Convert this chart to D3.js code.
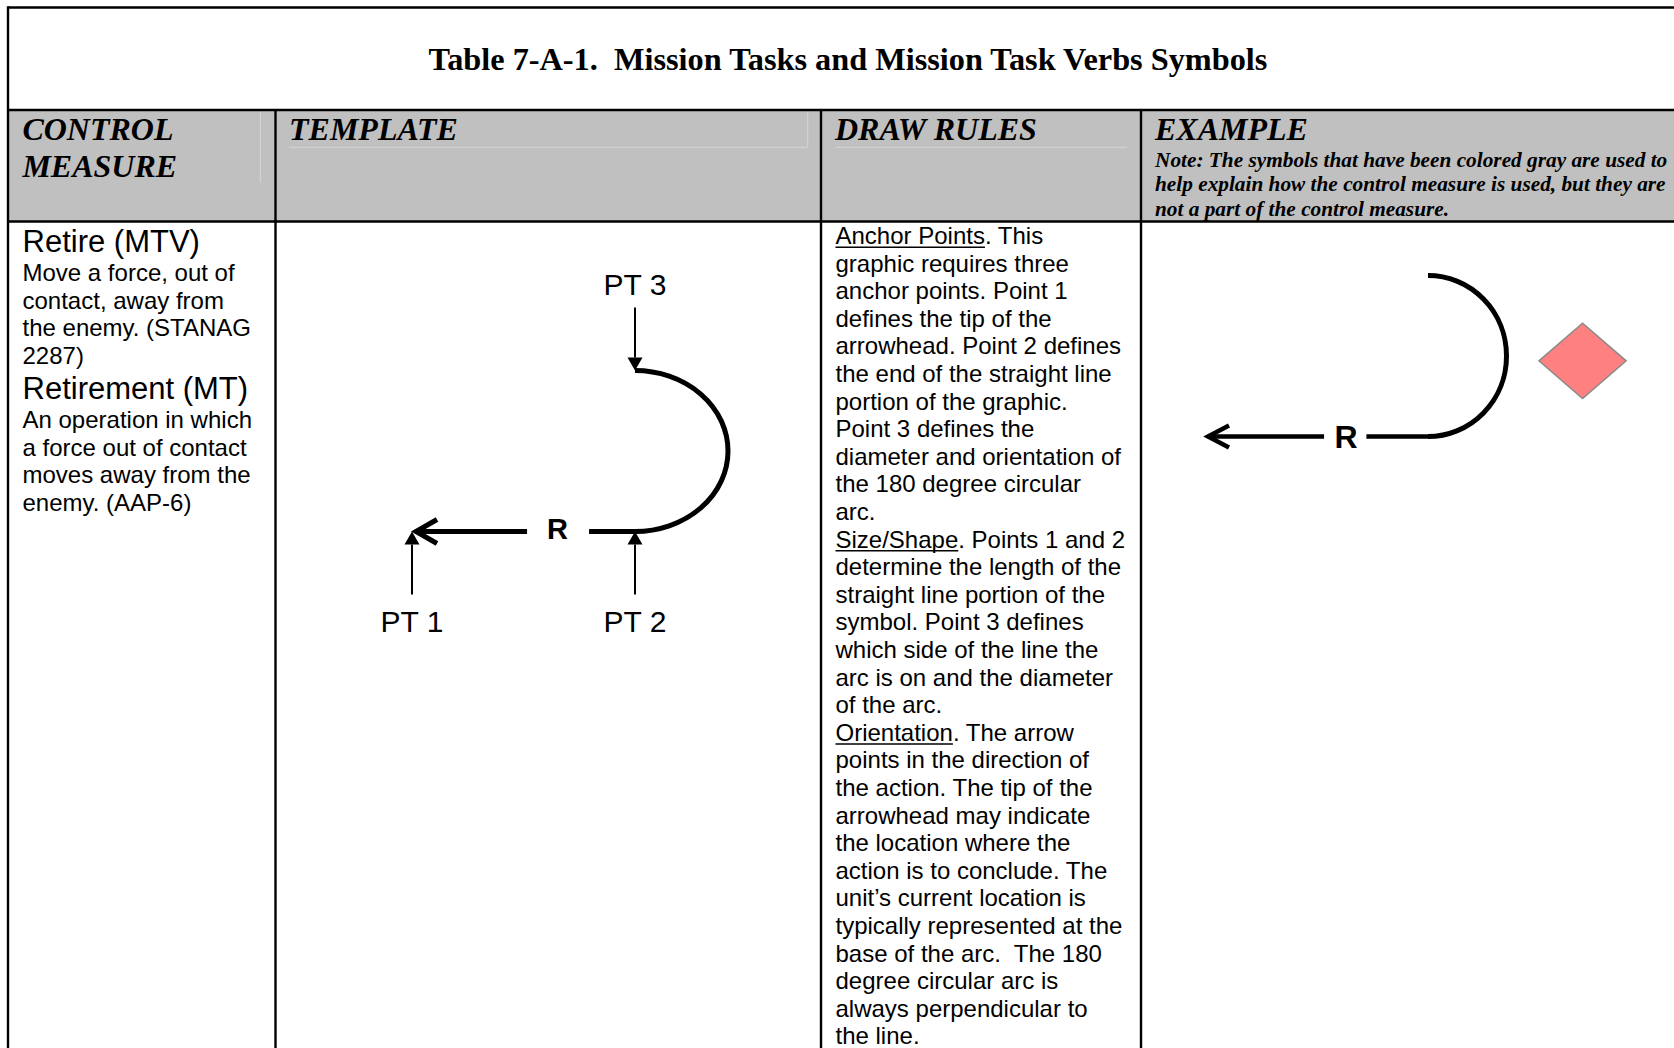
<!DOCTYPE html>
<html><head><meta charset="utf-8">
<script src="https://cdn.jsdelivr.net/npm/d3@7"></script>
<style>html,body{margin:0;padding:0;background:#fff;overflow:hidden} text{white-space:pre}</style>
</head><body><svg id="c" width="1674" height="1048"></svg>
<script>
// ---------------- DATA ----------------
const titleText = "Table 7-A-1.  Mission Tasks and Mission Task Verbs Symbols";
const columnHeaders = [["CONTROL", "MEASURE"], ["TEMPLATE"], ["DRAW RULES"], ["EXAMPLE"]];
const exampleNote = [
  "Note: The symbols that have been colored gray are used to",
  "help explain how the control measure is used, but they are",
  "not a part of the control measure."
];
const controlTerms = ["Retire (MTV)", "Retirement (MT)"];
const controlDefinitions = [
  ["Move a force, out of", "contact, away from", "the enemy. (STANAG", "2287)"],
  ["An operation in which", "a force out of contact", "moves away from the", "enemy. (AAP-6)"]
];
const ruleHeadings = ["Anchor Points", "Size/Shape", "Orientation"];
const drawRuleLines = [
  "Anchor Points. This", "graphic requires three", "anchor points. Point 1", "defines the tip of the",
  "arrowhead. Point 2 defines", "the end of the straight line", "portion of the graphic.",
  "Point 3 defines the", "diameter and orientation of", "the 180 degree circular", "arc.",
  "Size/Shape. Points 1 and 2", "determine the length of the", "straight line portion of the",
  "symbol. Point 3 defines", "which side of the line the", "arc is on and the diameter", "of the arc.",
  "Orientation. The arrow", "points in the direction of", "the action. The tip of the",
  "arrowhead may indicate", "the location where the", "action is to conclude. The",
  "unit\u2019s current location is", "typically represented at the", "base of the arc.  The 180",
  "degree circular arc is", "always perpendicular to", "the line."
];
// anchor points in symbol units (PT1 = arrow tip, PT2 = end of line, PT3 = arc end)
const anchorPoints = [
  {label: "PT 1", x: 0, y: 0},
  {label: "PT 2", x: 1, y: 0},
  {label: "PT 3", x: 1, y: 1}
];
const symbolLabel = "R";
const enemyUnit = {x: 1.69, y: 0.47};

// ---------------- LAYOUT ----------------
const svg = d3.select("#c");
const SANS = "'Liberation Sans', Arial, sans-serif";
const SERIF = "'Liberation Serif', 'Times New Roman', serif";
const colX = [8, 275.5, 821, 1141];
const rightEdge = 1680;
const yTop = 7.5, yHeadTop = 110, yHeadBot = 221.5, yBottom = 1060;
const LW = 2.4;

// header background
svg.append("rect").attr("x", colX[0]).attr("y", yHeadTop).attr("width", rightEdge - colX[0])
  .attr("height", yHeadBot - yHeadTop).attr("fill", "#c0c0c0");

// faint inner cell lines of the header
const faint = [
  [260.3, 112, 260.3, 183], [289, 147.3, 807, 147.3], [807.7, 112, 807.7, 147.3], [836, 147.3, 1127, 147.3]
];
svg.selectAll("line.faint").data(faint).enter().append("line").attr("class", "faint")
  .attr("x1", d => d[0]).attr("y1", d => d[1]).attr("x2", d => d[2]).attr("y2", d => d[3])
  .attr("stroke", "#d6d6d6").attr("stroke-width", 1);

// grid lines
const grid = [
  [colX[0], yTop, rightEdge, yTop],
  [colX[0], yTop - LW / 2, colX[0], yBottom],
  [colX[0], yHeadTop, rightEdge, yHeadTop],
  [colX[0], yHeadBot, rightEdge, yHeadBot],
  [colX[1], yHeadTop, colX[1], yBottom],
  [colX[2], yHeadTop, colX[2], yBottom],
  [colX[3], yHeadTop, colX[3], yBottom]
];
svg.selectAll("line.grid").data(grid).enter().append("line").attr("class", "grid")
  .attr("x1", d => d[0]).attr("y1", d => d[1]).attr("x2", d => d[2]).attr("y2", d => d[3])
  .attr("stroke", "#000").attr("stroke-width", LW);

// title
svg.append("text").attr("x", 848).attr("y", 70).attr("text-anchor", "middle")
  .attr("font-family", SERIF).attr("font-weight", "bold").attr("font-size", 32.3).text(titleText);

// column headers
const headX = [22.4, 289, 835, 1155];
columnHeaders.forEach((lines, i) => {
  svg.selectAll(null).data(lines).enter().append("text")
    .attr("x", headX[i]).attr("y", (d, j) => 140 + j * 37.2)
    .attr("font-family", SERIF).attr("font-weight", "bold").attr("font-style", "italic")
    .attr("font-size", 32).text(d => d);
});
svg.selectAll("text.note").data(exampleNote).enter().append("text").attr("class", "note")
  .attr("x", 1155).attr("y", (d, j) => 166.5 + j * 24.5)
  .attr("font-family", SERIF).attr("font-weight", "bold").attr("font-style", "italic")
  .attr("font-size", 21.3).text(d => d);

// control measure column
const termY = [252, 399];
const defY = [281, 428];
const LH = 27.65;
controlTerms.forEach((t, i) => {
  svg.append("text").attr("x", 22.5).attr("y", termY[i]).attr("font-family", SANS)
    .attr("font-size", 31).text(t);
  svg.selectAll(null).data(controlDefinitions[i]).enter().append("text")
    .attr("x", 22.5).attr("y", (d, j) => defY[i] + j * LH)
    .attr("font-family", SANS).attr("font-size", 24).text(d => d);
});

// draw rules column
const ruleX = 835.5, ruleY0 = 244, ruleLH = 27.6;
drawRuleLines.forEach((line, i) => {
  const y = ruleY0 + i * ruleLH;
  const head = ruleHeadings.find(h => line.startsWith(h));
  const t = svg.append("text").attr("x", ruleX).attr("y", y).attr("font-family", SANS).attr("font-size", 24);
  if (head) {
    const ts = t.append("tspan").text(head);
    t.append("tspan").text(line.slice(head.length));
    const w = ts.node().getComputedTextLength();
    svg.append("line").attr("x1", ruleX).attr("x2", ruleX + w).attr("y1", y + 3.2).attr("y2", y + 3.2)
      .attr("stroke", "#000").attr("stroke-width", 1.6);
  } else {
    t.text(line);
  }
});

// ---------------- SYMBOL DRAWING ----------------
function drawSymbol(cfg) {
  const x = d3.scaleLinear().domain([0, 1]).range(cfg.xRange);
  const y = d3.scaleLinear().domain([0, 1]).range(cfg.yRange);
  const g = svg.append("g");
  const p1 = anchorPoints[0], p2 = anchorPoints[1], p3 = anchorPoints[2];
  // arc from PT3 around to PT2
  g.append("path")
    .attr("d", `M${x(p3.x)},${y(p3.y)} A${cfg.rx},${cfg.ry} 0 0 1 ${x(p2.x)},${y(p2.y)}`)
    .attr("fill", "none").attr("stroke", "#000").attr("stroke-width", cfg.sw);
  // straight line segments with gap for the label
  const tipX = x(p1.x) + cfg.tipShift;
  const segs = [[tipX, x(cfg.gapStart)], [x(cfg.gapEnd), x(p2.x) + 1]];
  g.selectAll(null).data(segs).enter().append("line")
    .attr("x1", d => d[0]).attr("x2", d => d[1]).attr("y1", y(p1.y)).attr("y2", y(p2.y))
    .attr("stroke", "#000").attr("stroke-width", cfg.sw2);
  // open arrowhead
  const line = d3.line();
  g.append("path")
    .attr("d", line([[tipX + cfg.armDx, y(p1.y) - cfg.armDy], [tipX, y(p1.y)], [tipX + cfg.armDx, y(p1.y) + cfg.armDy]]))
    .attr("fill", "none").attr("stroke", "#000").attr("stroke-width", cfg.sw2)
    .attr("stroke-linejoin", "miter").attr("stroke-miterlimit", 10);
  // label
  g.append("text").attr("x", x(cfg.labelX)).attr("y", y(0) + cfg.labelDy).attr("text-anchor", "middle")
    .attr("font-family", SANS).attr("font-weight", "bold").attr("font-size", cfg.labelSize).text(symbolLabel);
  return {g, x, y};
}

// template
const tpl = drawSymbol({xRange: [412, 635], yRange: [531.5, 370.5], rx: 93, ry: 80.5, sw: 5, sw2: 5,
  gapStart: 0.516, gapEnd: 0.794, labelX: 0.652, labelDy: 7.5, labelSize: 29, armDx: 21, armDy: 12, tipShift: 4});

// anchor point callouts
const callLen = 63, headLen = 13, headHalf = 7.5;
anchorPoints.forEach(p => {
  const px = tpl.x(p.x), py = tpl.y(p.y);
  const dir = p.y === 0 ? 1 : -1; // callout below (1) or above (-1)
  tpl.g.append("line").attr("x1", px).attr("x2", px).attr("y1", py + dir * headLen).attr("y2", py + dir * callLen)
    .attr("stroke", "#000").attr("stroke-width", 2);
  tpl.g.append("path")
    .attr("d", d3.line()([[px, py], [px - headHalf, py + dir * headLen], [px + headHalf, py + dir * headLen]]) + "Z")
    .attr("fill", "#000");
  tpl.g.append("text").attr("x", px).attr("y", dir === 1 ? py + 100.5 : py - 75.5).attr("text-anchor", "middle")
    .attr("font-family", SANS).attr("font-size", 30).text(p.label);
});

// example
const ex = drawSymbol({xRange: [1204, 1428], yRange: [436.5, 275.5], rx: 78.5, ry: 80.5, sw: 5, sw2: 4.5,
  gapStart: 0.536, gapEnd: 0.725, labelX: 0.634, labelDy: 11, labelSize: 32, armDx: 21, armDy: 11, tipShift: 4});
const ecx = ex.x(enemyUnit.x), ecy = ex.y(enemyUnit.y);
ex.g.append("path")
  .attr("d", d3.line()([[ecx - 43.6, ecy], [ecx, ecy - 37.7], [ecx + 43.6, ecy], [ecx, ecy + 37.7]]) + "Z")
  .attr("fill", "#ff8080").attr("stroke", "#8a8a8a").attr("stroke-width", 1.5);
</script></body></html>
